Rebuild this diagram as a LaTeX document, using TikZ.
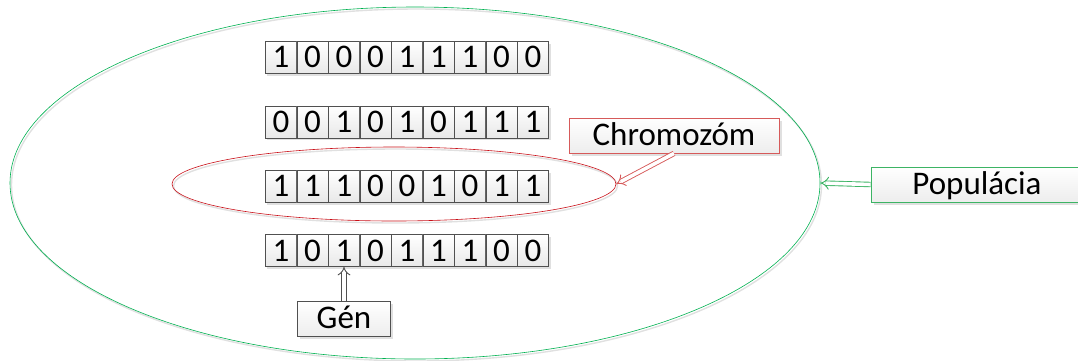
\documentclass[tikz,border=0pt]{standalone}
\usepackage{fontspec}
\setmainfont{Carlito}
\usetikzlibrary{
  matrix,
  positioning,
  shapes.geometric,
  shadows,
  arrows.meta
}
\definecolor{popgreen}{RGB}{0,176,80}
\definecolor{chromred}{RGB}{200,16,24}
\definecolor{boxred}{RGB}{214,90,90}
\definecolor{boxgreen}{RGB}{60,180,100}
\definecolor{cellgray}{RGB}{80,80,80}

\begin{document}
\begin{tikzpicture}[x=1pt,y=-1pt,
      bit/.style={
         rectangle,
         minimum width=31.1pt,
         minimum height=32pt,
         inner sep=0pt,
         draw=cellgray,
         top color=white,
         bottom color=black!9,
         font=\fontsize{33}{33}\selectfont,
         text height=21pt,
         text depth=0pt,
         drop shadow={shadow xshift=2pt,shadow yshift=-2.5pt,fill=black!12,opacity=1}
      },
      labelbox/.style={
         rectangle,
         minimum height=35pt,
         inner sep=0pt,
         thick,
         top color=white,
         bottom color=black!7,
         font=\fontsize{33}{33}\selectfont,
         text height=21pt,
         text depth=2pt,
         drop shadow={shadow xshift=2.5pt,shadow yshift=-3pt,fill=black!12,opacity=1}
      },
      ring/.style={
         ellipse,
         inner sep=0pt,
         semithick,
         preaction={draw=black!12,line width=1.4pt,
            transform canvas={shift={(1.5pt,-2pt)}}}
      },
      hollow/.style={
         double=white,
         double distance=3.6pt,
         line width=0.9pt,
         -{Implies[scale=1.7]}
      }
    ]
    \useasboundingbox (0,0) rectangle (1078,360);
    % population and chromosome rings
    \node (pop) [ring, draw=popgreen, minimum width=810pt, minimum height=352pt] at (415,183) {};
    \node (chrom) [ring, draw=chromred, minimum width=444pt, minimum height=74pt] at (394,184) {};
    % bit strings
    \matrix (bits) [matrix of nodes, nodes={bit}, column sep=0pt, row sep=32pt] at (407,154) {
      1 & 0 & 0 & 0 & 1 & 1 & 1 & 0 & 0 \\
      0 & 0 & 1 & 0 & 1 & 0 & 1 & 1 & 1 \\
      1 & 1 & 1 & 0 & 0 & 1 & 0 & 1 & 1 \\
      1 & 0 & 1 & 0 & 1 & 1 & 1 & 0 & 0 \\
    };
    % labels
    \node (chromlabel) [labelbox, draw=boxred, minimum width=210pt] at (674,135.5) {Chromozóm};
    \node (poplabel) [labelbox, draw=boxgreen, minimum width=212pt] at (977,184.5) {Populácia};
    \node (genlabel) [labelbox, draw=cellgray, minimum width=93pt, below=34pt of bits-4-3] {Gén};
    % arrows
    \draw[hollow, draw=boxred] (chromlabel.south) -- (chrom.east);
    \draw[hollow, draw=boxgreen] (poplabel.west) -- (pop.east);
    \draw[hollow, draw=cellgray] (genlabel.north) -- (bits-4-3.south);
\end{tikzpicture}
\end{document}
